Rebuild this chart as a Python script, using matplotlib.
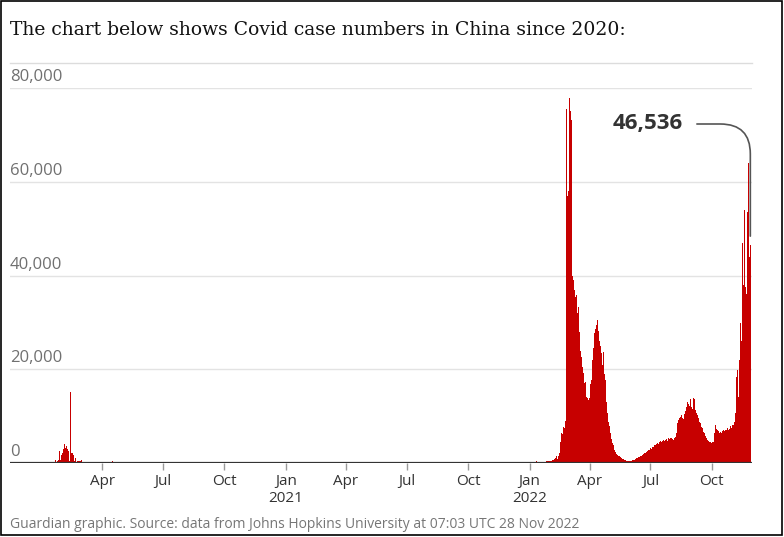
import numpy as np
import pandas as pd
import matplotlib
matplotlib.use("Agg")
import matplotlib.pyplot as plt
import matplotlib.dates as mdates
from matplotlib.patches import Rectangle
from matplotlib.lines import Line2D

# Casi giornalieri Cina (JHU), letti dal grafico
# gen-apr 2020, dati giornalieri dal 22 gennaio
early_2020_cases = [
    548, 95, 277, 486, 669, 802, 2632, 578, 2054, 1661,
    2089, 4739, 3086, 3991, 3733, 3147, 3523, 2704, 3015, 2525,
    2032, 373, 15136, 6463, 2055, 2100, 1921, 1777, 408, 458,
    1005, 210, 630, 412, 508, 410, 439, 328, 428,
    579, 206, 130, 120, 143, 146, 102, 46, 45, 20,
    31, 26, 11, 18, 27, 29, 39, 58, 44, 99,
    78, 50, 130, 94, 74, 61, 67, 40, 35, 1500, 55,
    80, 35, 31, 25, 39, 32, 62, 63, 42, 46,
    99, 108, 89, 46, 46, 352, 27, 16, 12, 11,
    30, 11, 10, 12, 11, 120, 3, 22, 22, 4,
]

# mag 2020 - dic 2021: medie settimanali (quasi zero)
quiet_weekly_cases = [
    5, 8, 6, 5, 4,
    10, 30, 25, 15,
    20, 40, 90, 110, 120,
    90, 60, 40, 25,
    15, 12, 12, 15,
    18, 20, 15, 20,
    25, 30, 50, 80, 100,
    100, 90, 80, 70,
    90, 130, 160, 140, 90,
    40, 20, 15, 15,
    15, 12, 12, 15,
    20, 25, 20, 18, 15,
    15, 18, 20, 25,
    30, 25, 25, 20,
    20, 30, 60, 90, 110,
    120, 90, 50, 30,
    40, 50, 40, 30,
    25, 30, 40, 50, 60,
    70, 60, 50, 70,
    100, 150, 200, 250,
]

# 2022, dati giornalieri dal 1 gennaio al 27 novembre
cases_2022 = [
    250, 230, 210, 190, 180, 200, 230, 260, 300, 320,
    350, 300, 280, 260, 250, 240, 260, 280, 300, 280,
    250, 270, 300, 320, 350, 380, 400, 420, 450, 480,
    400, 450, 500, 550, 600, 700, 800, 900, 1000, 1300,
    1400, 800, 1600, 1450, 2200, 1800, 4400, 6300, 3800, 6200,
    7700, 6200, 7500, 9000,
    74500, 75500, 57000, 56500, 58000, 77800, 77000, 75000, 73200, 40500,
    40000, 39000, 38300, 37000, 35500, 32600, 35900, 32000, 31200, 33300,
    28000, 26000, 24000, 22600, 21000, 20500, 19100, 18000, 17000, 17200,
    15400, 14000, 13800, 15400, 13400, 13800, 14500, 16900, 17700, 20000,
    22000, 24500, 26000, 27700, 28500, 27000, 29500, 30600, 29000, 28200,
    26000, 27500, 25000, 23400, 24000, 21000, 23700, 21000, 19000, 17700,
    15000, 13000, 10700, 10000, 8800, 7800, 7000, 6400, 5200, 4900,
    4200, 3800, 3200, 2800, 2400, 2100, 2000, 1800, 1600, 1500,
    1400, 1300, 1200, 1100, 1000, 900, 800, 700, 650, 600,
    550, 500, 450, 400, 420, 380, 400, 420, 450, 500,
    550, 600, 650, 700, 800, 900, 1000, 1100, 1200, 1300,
    1350, 1400, 1500, 1600, 1700, 1800, 1900, 2000, 2100, 2200,
    2300, 2400, 2500, 2600, 2800, 2700, 3000, 3100, 2900, 3300,
    3400, 3500, 3300, 3800, 3900, 3700, 4000, 4200, 4400, 4100,
    4500, 4600, 4700, 4400, 4800, 4900, 5000, 4700, 5100, 4900,
    5100, 5200, 4800, 5300, 5000, 5200, 5400, 4900, 5300, 5100,
    5200, 5000, 5400, 5300, 5600, 6500, 7700, 8500, 9200, 8800,
    9500, 9800, 9000, 10200, 9700, 8800, 9400, 10500, 11500, 11000,
    12000, 11800, 13000, 12500, 13800, 12200, 13600, 12800, 12000, 11500,
    12500, 13800, 13600, 12000, 11300, 10700, 11000, 10200, 9500, 9800,
    8800, 8500, 8200, 7700, 7400, 7000, 6600, 6400, 6000, 5700,
    5400, 5100, 4900, 4800, 4600, 4500, 4400, 4300, 4200, 4500,
    4300, 4400, 6500, 7700, 8100, 7300, 7800, 7000, 6800, 6500,
    6400, 6700, 6500, 6300, 6800, 6600, 7000, 6900, 6700, 7100,
    7000, 7200, 7400, 7100, 7600, 7300, 7800, 8000, 7500, 8200,
    8500, 8200, 8800, 12700, 10700, 18400, 12000, 19900, 14000, 26000,
    22000, 29800, 24000, 26000, 46900, 32700, 38000, 54000, 39700, 37500,
    36000, 34800, 53600, 63900, 41200, 44000, 46536,
]

y_ticks = [0, 20000, 40000, 60000, 80000]
tick_dates = pd.date_range("2020-04-01", "2022-10-01", freq="QS")
tick_labels = ["Jan\n%d" % d.year if d.month == 1 else d.strftime("%b") for d in tick_dates]

title = "The chart below shows Covid case numbers in China since 2020:"
source = "Guardian graphic. Source: data from Johns Hopkins University at 07:03 UTC 28 Nov 2022"
last_label = "46,536"

RED = "#c70000"
W, H = 784, 537

fig = plt.figure(figsize=(W / 100, H / 100), dpi=100)
fig.patch.set_facecolor("white")
ax = fig.add_axes([10 / W, 1 - 463 / H, 742 / W, 375 / H])

d_early = pd.date_range("2020-01-22", periods=len(early_2020_cases), freq="D")
d_quiet = pd.date_range("2020-05-01", periods=len(quiet_weekly_cases), freq="7D")
d_2022 = pd.date_range("2022-01-01", periods=len(cases_2022), freq="D")

ax.bar(d_early, early_2020_cases, width=1, align="edge", color=RED, linewidth=0)
ax.bar(d_quiet, quiet_weekly_cases, width=7, align="edge", color=RED, linewidth=0)
ax.bar(d_2022, cases_2022, width=1, align="edge", color=RED, linewidth=0)

ax.set_xlim(pd.Timestamp("2019-11-15"), pd.Timestamp("2022-11-30"))
ax.set_ylim(0, 80000)

for s in ax.spines.values():
    s.set_visible(False)
ax.set_yticks(y_ticks)
ax.set_yticklabels([])
ax.tick_params(axis="y", length=0)
ax.grid(axis="y", color="#e3e3e3", linewidth=1)
ax.set_axisbelow(True)
ax.axhline(0, color="#333333", linewidth=1.6, zorder=5)

for v in y_ticks:
    ax.annotate(f"{v:,}", xy=(0, v), xycoords=("axes fraction", "data"),
                xytext=(0, 2), textcoords="offset points", ha="left", va="bottom",
                fontsize=12, color="#707070", family="Open Sans")

ax.set_xticks(tick_dates)
ax.set_xticklabels(tick_labels, fontsize=11, color="#333333", family="Open Sans", linespacing=1.15)
ax.tick_params(axis="x", length=5, width=1, color="#999999", pad=3)

# etichetta ultimo valore
last_x = d_2022[-1] + pd.Timedelta(hours=12)
ax.annotate(last_label, xy=(last_x, 48400), xycoords="data",
            xytext=(683, H - 124), textcoords="figure pixels",
            ha="right", va="center", fontsize=16, fontweight="bold",
            color="#333333", family="Open Sans",
            arrowprops=dict(arrowstyle="-", color="#555555", lw=1.2,
                            shrinkA=8, shrinkB=0,
                            connectionstyle="angle,angleA=0,angleB=90,rad=30"))

fig.text(10 / W, 1 - 30 / H, title, ha="left", va="center", fontsize=13.5,
         family="DejaVu Serif", color="#121212")
fig.text(10 / W, 1 - 524 / H, source, ha="left", va="center", fontsize=10,
         family="Open Sans", color="#767676")

fig.add_artist(Line2D([10 / W, 752 / W], [1 - 63 / H, 1 - 63 / H], color="#dcdcdc", lw=1))
fig.add_artist(Rectangle((1 / W, 1 - 535 / H), 781 / W, 534 / H, transform=fig.transFigure,
                         fill=False, edgecolor="black", linewidth=1.2))

fig.savefig("out.png", dpi=100)
